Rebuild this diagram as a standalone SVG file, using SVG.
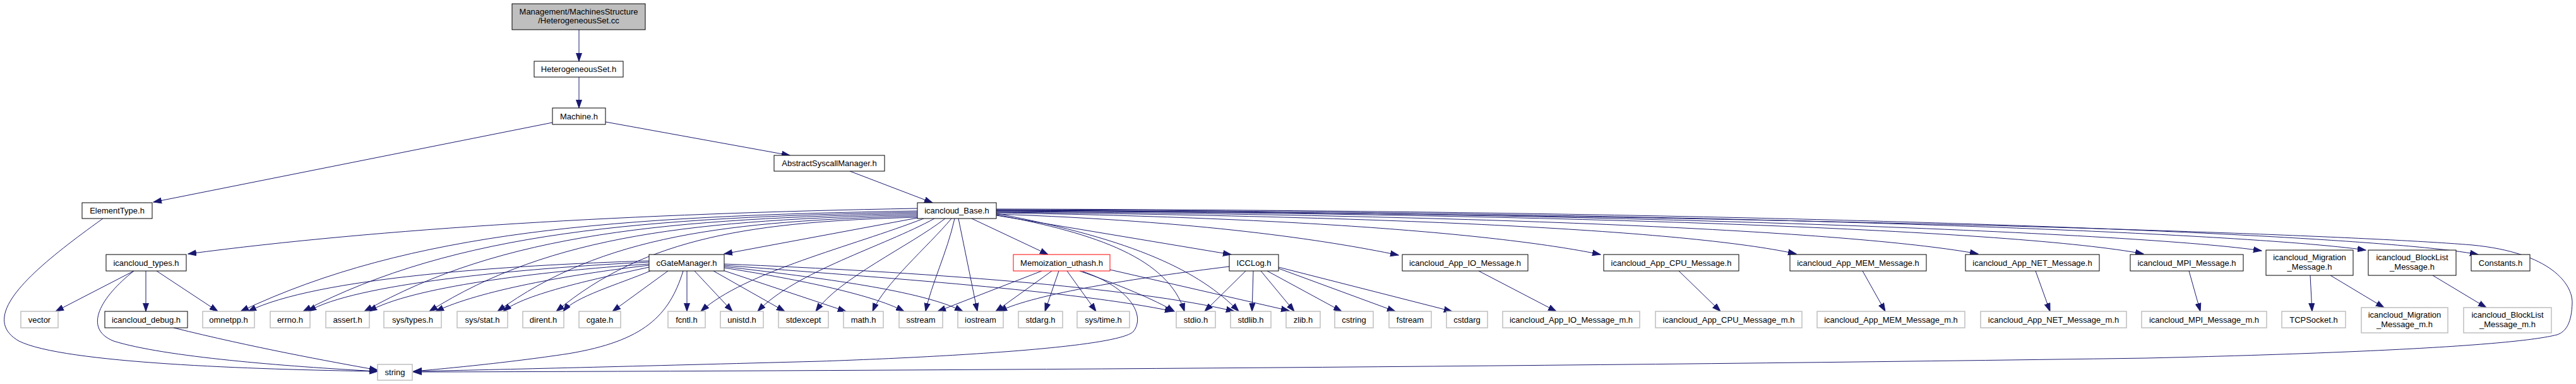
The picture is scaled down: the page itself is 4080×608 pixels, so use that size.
<svg xmlns="http://www.w3.org/2000/svg" width="4080" height="608" viewBox="0 0 4080 608">
<style>
text{font-family:"Liberation Sans",Arial,sans-serif;font-size:13px;text-anchor:middle;fill:#000}
.n rect{fill:#fff;stroke:#000;stroke-width:1}
.u rect{fill:#fff;stroke:#bfbfbf;stroke-width:1.5}
.r rect{fill:#fff;stroke:#ff0000;stroke-width:1}
.g rect{fill:#bfbfbf;stroke:#000;stroke-width:1}
#edges path{fill:none;stroke:#191970;stroke-width:1;marker-end:url(#a)}
</style>
<defs>
<marker id="a" markerUnits="userSpaceOnUse" markerWidth="14" markerHeight="10" refX="13" refY="5" orient="auto">
<path d="M0,0.5 L13,5 L0,9.5 z" fill="#191970" stroke="#191970" stroke-width="1"/>
</marker>
</defs>
<rect x="0" y="0" width="4080" height="608" fill="#fff"/>
<g id="edges">
<path d="M917,47 L917,97"/>
<path d="M917,122 L917,171"/>
<path d="M875,194 L243,320"/>
<path d="M959,193 L1251,246"/>
<path d="M1346,271 L1477,321"/>
<path d="M163,346 C 60,420 -40,500 30,540 C 100,575 400,585 598,588"/>
<path d="M1453,330 C 1000,338 600,362 298,402"/>
<path d="M1453,334 C 971,342 649,366 381,493"/>
<path d="M1453,336 C 1015,344 723,367 480,493"/>
<path d="M1453,338 C 1059,346 796,369 577,493"/>
<path d="M1453,340 C 1105,348 873,371 680,493"/>
<path d="M1453,342 C 1154,350 954,372 788,493"/>
<path d="M1453,344 C 1196,351 1024,374 881,493"/>
<path d="M1453,345 L1147,402"/>
<path d="M1463,346 C 1350,390 1180,430 1110,493"/>
<path d="M1480,346 C 1400,390 1260,430 1200,493"/>
<path d="M1497,346 C 1440,390 1330,440 1292,493"/>
<path d="M1507,346 C 1470,390 1400,450 1382,493"/>
<path d="M1512,346 C 1500,400 1475,450 1466,493"/>
<path d="M1518,346 L1548,493"/>
<path d="M1539,346 L1660,403"/>
<path d="M1578,340 C 1740,370 1850,410 1876,493"/>
<path d="M1578,338 C 1800,380 1900,430 1962,493"/>
<path d="M1578,341 L1950,403"/>
<path d="M1578,339 C 1900,350 2100,380 2215,404"/>
<path d="M1578,337 C 2100,345 2400,375 2535,403"/>
<path d="M1578,336 C 2300,343 2700,370 2845,402"/>
<path d="M1578,335 C 2400,340 2950,368 3133,402"/>
<path d="M1578,334 C 2500,338 3200,365 3395,402"/>
<path d="M1578,333 C 2600,336 3400,370 3582,397"/>
<path d="M1578,332 C 2700,335 3550,368 3747,396"/>
<path d="M1578,331 C 2800,333 3750,370 3925,403"/>
<path d="M1578,333 C 2800,340 3700,370 3916,388 C 4040,400 4075,450 4074,480 C 4073,510 4065,525 4050,530 C 3980,548 3700,560 3400,567 C 2500,580 1500,587 655,589"/>
<path d="M1028,413 C 800,420 500,440 393,493"/>
<path d="M1028,415 C 820,425 560,450 488,493"/>
<path d="M1028,418 C 850,430 650,455 584,493"/>
<path d="M1028,420 C 900,435 760,460 690,493"/>
<path d="M1028,423 C 950,440 830,465 797,493"/>
<path d="M1030,429 C 980,450 910,470 892,493"/>
<path d="M1058,429 L970,493"/>
<path d="M1088,429 L1088,493"/>
<path d="M1100,429 L1160,493"/>
<path d="M1130,429 L1243,493"/>
<path d="M1145,428 L1340,493"/>
<path d="M1147,424 C 1250,440 1380,465 1432,493"/>
<path d="M1147,422 C 1300,440 1460,460 1525,493"/>
<path d="M1147,420 C 1400,440 1700,460 1858,493"/>
<path d="M1147,418 C 1450,430 1800,455 1955,493"/>
<path d="M1082,429 C 1060,500 1020,540 900,560 C 800,575 700,584 655,588"/>
<path d="M1650,429 L1485,493"/>
<path d="M1666,429 L1577,493"/>
<path d="M1677,429 L1655,493"/>
<path d="M1690,429 L1736,493"/>
<path d="M1710,429 C 1770,450 1830,475 1860,493"/>
<path d="M1715,430 C 1790,455 1815,500 1795,525 C 1770,550 1500,565 1300,572 C 1000,580 800,585 655,588"/>
<path d="M1758,427 L2042,492"/>
<path d="M1947,422 C 1800,440 1640,465 1582,493"/>
<path d="M1973,429 L1908,493"/>
<path d="M1985,429 L1983,493"/>
<path d="M1997,429 L2050,493"/>
<path d="M2007,429 L2125,493"/>
<path d="M2025,425 L2210,493"/>
<path d="M2025,423 L2300,493"/>
<path d="M212,429 L88,493"/>
<path d="M231,429 L231,493"/>
<path d="M248,429 L345,493"/>
<path d="M212,429 C 160,470 130,520 180,540 C 260,565 450,580 598,588"/>
<path d="M275,519 C 400,550 520,572 598,586"/>
<path d="M2342,429 L2465,493"/>
<path d="M2659,429 L2725,493"/>
<path d="M2950,429 L2986,493"/>
<path d="M3224,429 L3247,493"/>
<path d="M3467,429 L3485,493"/>
<path d="M3659,436 L3662,493"/>
<path d="M3691,436 L3776,487"/>
<path d="M3853,436 L3938,487"/>
</g>
<g id="root" class="g"><rect x="811" y="6" width="211" height="41"/><text x="916.5" y="23">Management/MachinesStructure</text><text x="916.5" y="37">/HeterogeneousSet.cc</text></g>
<g id="hetset" class="n"><rect x="846" y="97" width="141" height="25"/><text x="916.5" y="114">HeterogeneousSet.h</text></g>
<g id="machine" class="n"><rect x="875" y="171" width="84" height="26"/><text x="917" y="188.5">Machine.h</text></g>
<g id="abstract" class="n"><rect x="1226" y="246" width="175" height="25"/><text x="1313.5" y="263">AbstractSyscallManager.h</text></g>
<g id="elementtype" class="n"><rect x="130" y="321" width="111" height="25"/><text x="185.5" y="338">ElementType.h</text></g>
<g id="base" class="n"><rect x="1453" y="321" width="125" height="25"/><text x="1515.5" y="338">icancloud_Base.h</text></g>
<g id="types" class="n"><rect x="168" y="403" width="127" height="26"/><text x="231.5" y="420.5">icancloud_types.h</text></g>
<g id="cgatemgr" class="n"><rect x="1028" y="403" width="119" height="26"/><text x="1087.5" y="420.5">cGateManager.h</text></g>
<g id="memo" class="r"><rect x="1605" y="403" width="153" height="26"/><text x="1681.5" y="420.5">Memoization_uthash.h</text></g>
<g id="icclog" class="n"><rect x="1947" y="403" width="78" height="26"/><text x="1986" y="420.5">ICCLog.h</text></g>
<g id="io" class="n"><rect x="2221" y="403" width="199" height="26"/><text x="2320.5" y="420.5">icancloud_App_IO_Message.h</text></g>
<g id="cpu" class="n"><rect x="2540" y="403" width="214" height="26"/><text x="2647" y="420.5">icancloud_App_CPU_Message.h</text></g>
<g id="mem" class="n"><rect x="2835" y="403" width="216" height="26"/><text x="2943" y="420.5">icancloud_App_MEM_Message.h</text></g>
<g id="net" class="n"><rect x="3113" y="403" width="212" height="26"/><text x="3219" y="420.5">icancloud_App_NET_Message.h</text></g>
<g id="mpi" class="n"><rect x="3374" y="403" width="179" height="26"/><text x="3463.5" y="420.5">icancloud_MPI_Message.h</text></g>
<g id="migration" class="n"><rect x="3589" y="396" width="138" height="40"/><text x="3658" y="411.5">icancloud_Migration</text><text x="3658" y="427">_Message.h</text></g>
<g id="blocklist" class="n"><rect x="3751" y="396" width="139" height="40"/><text x="3820.5" y="411.5">icancloud_BlockList</text><text x="3820.5" y="427">_Message.h</text></g>
<g id="constants" class="n"><rect x="3914" y="403" width="93" height="26"/><text x="3960.5" y="420.5">Constants.h</text></g>
<g id="vector" class="u"><rect x="33" y="493" width="59" height="26"/><text x="62.5" y="510.5">vector</text></g>
<g id="debug" class="n"><rect x="166" y="493" width="131" height="26"/><text x="231.5" y="510.5">icancloud_debug.h</text></g>
<g id="omnetpp" class="u"><rect x="321" y="493" width="82" height="26"/><text x="362" y="510.5">omnetpp.h</text></g>
<g id="errno" class="u"><rect x="428" y="493" width="63" height="26"/><text x="459.5" y="510.5">errno.h</text></g>
<g id="assert" class="u"><rect x="516" y="493" width="69" height="26"/><text x="550.5" y="510.5">assert.h</text></g>
<g id="systypes" class="u"><rect x="608" y="493" width="91" height="26"/><text x="653.5" y="510.5">sys/types.h</text></g>
<g id="sysstat" class="u"><rect x="724" y="493" width="80" height="26"/><text x="764" y="510.5">sys/stat.h</text></g>
<g id="dirent" class="u"><rect x="828" y="493" width="65" height="26"/><text x="860.5" y="510.5">dirent.h</text></g>
<g id="cgate" class="u"><rect x="917" y="493" width="66" height="26"/><text x="950" y="510.5">cgate.h</text></g>
<g id="fcntl" class="u"><rect x="1058" y="493" width="59" height="26"/><text x="1087.5" y="510.5">fcntl.h</text></g>
<g id="unistd" class="u"><rect x="1141" y="493" width="68" height="26"/><text x="1175" y="510.5">unistd.h</text></g>
<g id="stdexcept" class="u"><rect x="1233" y="493" width="79" height="26"/><text x="1272.5" y="510.5">stdexcept</text></g>
<g id="math" class="u"><rect x="1336" y="493" width="63" height="26"/><text x="1367.5" y="510.5">math.h</text></g>
<g id="sstream" class="u"><rect x="1424" y="493" width="69" height="26"/><text x="1458.5" y="510.5">sstream</text></g>
<g id="iostream" class="u"><rect x="1517" y="493" width="72" height="26"/><text x="1553" y="510.5">iostream</text></g>
<g id="stdarg" class="u"><rect x="1613" y="493" width="70" height="26"/><text x="1648" y="510.5">stdarg.h</text></g>
<g id="systime" class="u"><rect x="1706" y="493" width="83" height="26"/><text x="1747.5" y="510.5">sys/time.h</text></g>
<g id="stdio" class="u"><rect x="1863" y="493" width="62" height="26"/><text x="1894" y="510.5">stdio.h</text></g>
<g id="stdlib" class="u"><rect x="1949" y="493" width="64" height="26"/><text x="1981" y="510.5">stdlib.h</text></g>
<g id="zlib" class="u"><rect x="2037" y="493" width="54" height="26"/><text x="2064" y="510.5">zlib.h</text></g>
<g id="cstring" class="u"><rect x="2114" y="493" width="61" height="26"/><text x="2144.5" y="510.5">cstring</text></g>
<g id="fstream" class="u"><rect x="2200" y="493" width="67" height="26"/><text x="2233.5" y="510.5">fstream</text></g>
<g id="cstdarg" class="u"><rect x="2291" y="493" width="65" height="26"/><text x="2323.5" y="510.5">cstdarg</text></g>
<g id="io_m" class="u"><rect x="2380" y="493" width="217" height="26"/><text x="2488.5" y="510.5">icancloud_App_IO_Message_m.h</text></g>
<g id="cpu_m" class="u"><rect x="2622" y="493" width="232" height="26"/><text x="2738" y="510.5">icancloud_App_CPU_Message_m.h</text></g>
<g id="mem_m" class="u"><rect x="2878" y="493" width="234" height="26"/><text x="2995" y="510.5">icancloud_App_MEM_Message_m.h</text></g>
<g id="net_m" class="u"><rect x="3137" y="493" width="231" height="26"/><text x="3252.5" y="510.5">icancloud_App_NET_Message_m.h</text></g>
<g id="mpi_m" class="u"><rect x="3392" y="493" width="198" height="26"/><text x="3491" y="510.5">icancloud_MPI_Message_m.h</text></g>
<g id="tcpsocket" class="u"><rect x="3614" y="493" width="101" height="26"/><text x="3664.5" y="510.5">TCPSocket.h</text></g>
<g id="migration_m" class="u"><rect x="3740" y="487" width="137" height="40"/><text x="3808.5" y="503">icancloud_Migration</text><text x="3808.5" y="517.5">_Message_m.h</text></g>
<g id="blocklist_m" class="u"><rect x="3902" y="487" width="139" height="40"/><text x="3971.5" y="503">icancloud_BlockList</text><text x="3971.5" y="517.5">_Message_m.h</text></g>
<g id="string" class="u"><rect x="598" y="577" width="55" height="25"/><text x="625.5" y="594">string</text></g>
</svg>
